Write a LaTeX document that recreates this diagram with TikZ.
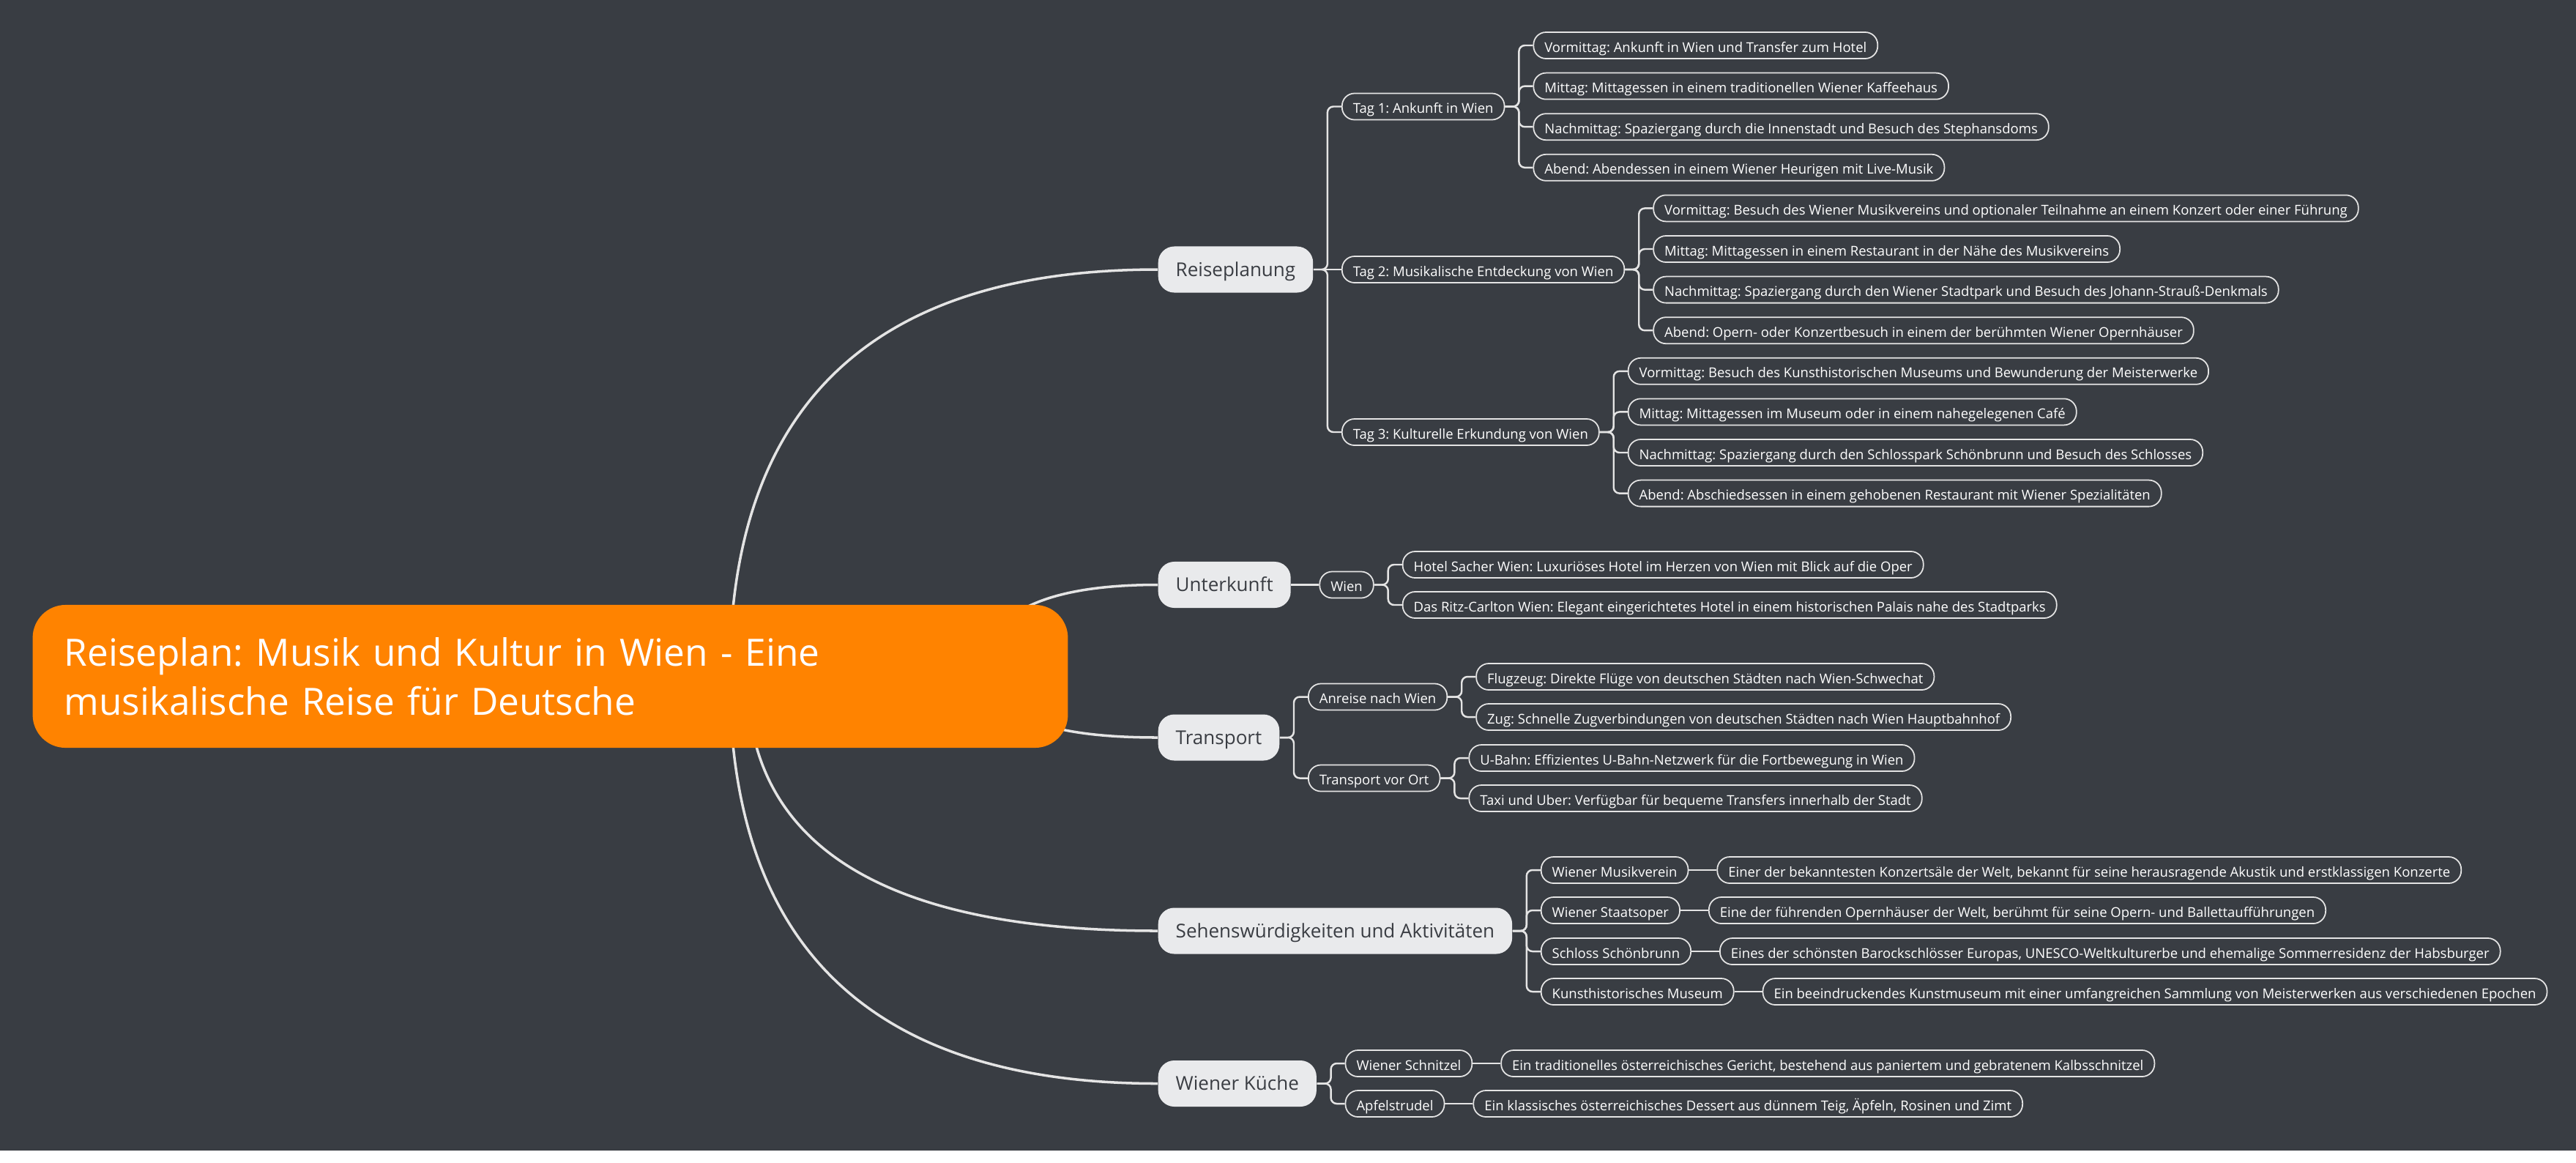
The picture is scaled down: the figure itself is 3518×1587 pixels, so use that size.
\documentclass[tikz,border=0pt]{standalone}
\usepackage{fontspec}
\setmainfont{Open Sans}
\frenchspacing
\usetikzlibrary{calc,backgrounds}
\definecolor{slate}{RGB}{57,61,67}
\definecolor{tangerine}{RGB}{255,131,0}
\definecolor{mist}{RGB}{233,234,236}
\definecolor{graphite}{RGB}{58,61,67}
\definecolor{wire}{RGB}{228,228,228}
\tikzset{
  root/.style={fill=tangerine,text=white,rounded corners=0.45cm,inner xsep=0.43cm,
    text width=13.27cm,minimum height=1.95cm,align=left,
    font=\fontsize{14.6}{19.1}\selectfont},
  topic/.style={fill=mist,text=graphite,rounded corners=0.22cm,inner xsep=0.24cm,inner ysep=0pt,
    minimum height=0.63cm,anchor=west,text height=0.72em,text depth=0.2em,
    font=\fontsize{7.4}{9}\selectfont},
  leaf/.style={draw=wire,fill=slate,line width=0.5pt,text=white,rounded corners=0.17cm,
    inner xsep=0.15cm,inner ysep=0pt,minimum height=0.36cm,anchor=west,xshift=3.8mm,
    text height=0.72em,text depth=0.2em,font=\fontsize{5.26}{6.5}\selectfont},
  trunk/.style={draw=wire,line width=1pt},
  twig/.style={draw=wire,line width=0.7pt,rounded corners=0.08cm},
}

\begin{document}
\begin{tikzpicture}[x=0.01cm,y=-0.01cm]
  \useasboundingbox (0,0) rectangle (3518,1587);
  % root and main topics
  \node[root] (root) at (751.5,923.5) {Reiseplan: Musik und Kultur in Wien - Eine\\musikalische Reise für Deutsche};
  \node[topic] (rp) at (1581,368) {Reiseplanung};
  \node[topic] (uk) at (1581,798.5) {Unterkunft};
  \node[topic] (tr) at (1581,1007) {Transport};
  \node[topic] (sw) at (1581,1271) {Sehenswürdigkeiten und Aktivitäten};
  \node[topic] (wk) at (1581,1479.5) {Wiener Küche};

  % Reiseplanung
  \node[leaf] (t1) at (rp.east |- 0,145.5) {Tag 1: Ankunft in Wien};
  \node[leaf] (t2) at (rp.east |- 0,368) {Tag 2: Musikalische Entdeckung von Wien};
  \node[leaf] (t3) at (rp.east |- 0,590) {Tag 3: Kulturelle Erkundung von Wien};
  \foreach \d/\t [count=\i,evaluate=\i as \y using 62+55.6*(\i-1)] in {
    t1/Vormittag: Ankunft in Wien und Transfer zum Hotel,
    t1/Mittag: Mittagessen in einem traditionellen Wiener Kaffeehaus,
    t1/Nachmittag: Spaziergang durch die Innenstadt und Besuch des Stephansdoms,
    t1/Abend: Abendessen in einem Wiener Heurigen mit Live-Musik,
    t2/Vormittag: Besuch des Wiener Musikvereins und optionaler Teilnahme an einem Konzert oder einer Führung,
    t2/Mittag: Mittagessen in einem Restaurant in der Nähe des Musikvereins,
    t2/Nachmittag: Spaziergang durch den Wiener Stadtpark und Besuch des Johann-Strauß-Denkmals,
    t2/Abend: Opern- oder Konzertbesuch in einem der berühmten Wiener Opernhäuser,
    t3/Vormittag: Besuch des Kunsthistorischen Museums und Bewunderung der Meisterwerke,
    t3/Mittag: Mittagessen im Museum oder in einem nahegelegenen Café,
    t3/Nachmittag: Spaziergang durch den Schlosspark Schönbrunn und Besuch des Schlosses,
    t3/Abend: Abschiedsessen in einem gehobenen Restaurant mit Wiener Spezialitäten}
  {
    \node[leaf] (\d-\i) at (\d.east |- 0,\y) {\t};
    \draw[twig] (\d.east) -- ++(19,0) |- (\d-\i.west);
  }

  % Unterkunft
  \node[leaf] (wi) at (uk.east |- 0,798.5) {Wien};
  \node[leaf] (wi1) at (wi.east |- 0,771) {Hotel Sacher Wien: Luxuriöses Hotel im Herzen von Wien mit Blick auf die Oper};
  \node[leaf] (wi2) at (wi.east |- 0,826) {Das Ritz-Carlton Wien: Elegant eingerichtetes Hotel in einem historischen Palais nahe des Stadtparks};

  % Transport
  \node[leaf] (an) at (tr.east |- 0,951.5) {Anreise nach Wien};
  \node[leaf] (vo) at (tr.east |- 0,1062.5) {Transport vor Ort};
  \node[leaf] (an1) at (an.east |- 0,924) {Flugzeug: Direkte Flüge von deutschen Städten nach Wien-Schwechat};
  \node[leaf] (an2) at (an.east |- 0,979) {Zug: Schnelle Zugverbindungen von deutschen Städten nach Wien Hauptbahnhof};
  \node[leaf] (vo1) at (vo.east |- 0,1035) {U-Bahn: Effizientes U-Bahn-Netzwerk für die Fortbewegung in Wien};
  \node[leaf] (vo2) at (vo.east |- 0,1090) {Taxi und Uber: Verfügbar für bequeme Transfers innerhalb der Stadt};

  % Sehenswuerdigkeiten und Kueche
  \foreach \p/\n/\y/\t/\e in {
    sw/s1/1188/Wiener Musikverein/{Einer der bekanntesten Konzertsäle der Welt, bekannt für seine herausragende Akustik und erstklassigen Konzerte},
    sw/s2/1243/Wiener Staatsoper/{Eine der führenden Opernhäuser der Welt, berühmt für seine Opern- und Ballettaufführungen},
    sw/s3/1299/Schloss Schönbrunn/{Eines der schönsten Barockschlösser Europas, UNESCO-Weltkulturerbe und ehemalige Sommerresidenz der Habsburger},
    sw/s4/1354/Kunsthistorisches Museum/{Ein beeindruckendes Kunstmuseum mit einer umfangreichen Sammlung von Meisterwerken aus verschiedenen Epochen},
    wk/k1/1452/Wiener Schnitzel/{Ein traditionelles österreichisches Gericht, bestehend aus paniertem und gebratenem Kalbsschnitzel},
    wk/k2/1507/Apfelstrudel/{Ein klassisches österreichisches Dessert aus dünnem Teig, Äpfeln, Rosinen und Zimt}}
  {
    \node[leaf] (\n) at (\p.east |- 0,\y) {\t};
    \node[leaf] (\n d) at (\n.east) {\e};
    \draw[twig] (\n.east) -- (\n d.west);
  }

  \draw[twig] (rp.east) -- (t2.west);
  \draw[twig] (uk.east) -- (wi.west);
  \foreach \p/\c in {rp/t1,rp/t3,wi/wi1,wi/wi2,tr/an,tr/vo,an/an1,an/an2,vo/vo1,vo/vo2,
    sw/s1,sw/s2,sw/s3,sw/s4,wk/k1,wk/k2}
    \draw[twig] (\p.east) -- ++(19,0) |- (\c.west);

  \begin{scope}[on background layer]
    \fill[white] (0,0) rectangle (3518,1587);
    \fill[slate] (0,0) rectangle (3518,1571);
    \foreach \n/\dx in {rp/245,uk/589,tr/609,sw/269,wk/245}
      \draw[trunk] ($(root.center)+(\dx,0)$) coordinate (s)
        .. controls ($(s)!2/3!(s |- \n.west)$) and ($(\n.west)!2/3!(s |- \n.west)$) .. (\n.west);
  \end{scope}
\end{tikzpicture}
\end{document}
